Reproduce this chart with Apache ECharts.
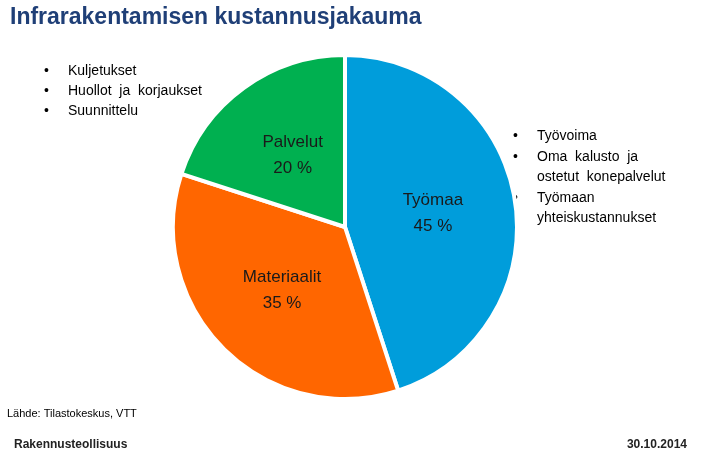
<!DOCTYPE html><html><head><meta charset="utf-8">
<script src="https://cdn.jsdelivr.net/npm/echarts@6/dist/echarts.min.js"></script>
<style>html,body{margin:0;padding:0;background:#fff}#c{width:701px;height:466px}</style></head><body><div id="c"></div>
<script>
const categories=['Työmaa','Materiaalit','Palvelut'];
const values=[45,35,20];
const colors=['#009DDB','#FF6600','#00B050'];
const leftBullets=['Kuljetukset','Huollot  ja  korjaukset','Suunnittelu'];
const rightBullets=[['•','Työvoima'],['•','Oma  kalusto  ja'],['','ostetut  konepalvelut'],['•','Työmaan'],['','yhteiskustannukset']];
const chart=echarts.init(document.getElementById('c'));
const font='Arial, "Liberation Sans", sans-serif';
const g=[];
g.push({type:'text',left:10,top:6,style:{text:'Infrarakentamisen kustannusjakauma',font:'bold 23px '+font,fill:'#1F3F77'}});
leftBullets.forEach((t,i)=>{g.push({type:'text',left:44,top:64+i*20,style:{text:'•',font:'14px '+font,fill:'#000'}});g.push({type:'text',left:68,top:64+i*20,style:{text:t,font:'14px '+font,fill:'#000'}});});
const ry=[129,150,170,191,211];
rightBullets.forEach((r,i)=>{if(r[0])g.push({type:'text',left:513,top:ry[i],style:{text:r[0],font:'14px '+font,fill:'#000'}});g.push({type:'text',left:537,top:ry[i],style:{text:r[1],font:'14px '+font,fill:'#000'}});});
g.push({type:'text',left:7,top:408,style:{text:'Lähde: Tilastokeskus, VTT',font:'11px '+font,fill:'#000'}});
g.push({type:'text',left:14,top:439,style:{text:'Rakennusteollisuus',font:'bold 12px '+font,fill:'#222'}});
g.push({type:'text',right:14,top:439,style:{text:'30.10.2014',font:'bold 12px '+font,fill:'#222'}});
chart.setOption({animation:false,graphic:g,
series:[{type:'pie',center:[345,227],radius:[0,172],startAngle:90,clockwise:true,
itemStyle:{borderColor:'#fff',borderWidth:4},
label:{show:true,position:'inside',formatter:p=>p.name+'\n'+p.value+' %',fontFamily:font,fontSize:17,lineHeight:26,color:'#1a1a1a'},
data:categories.map((c,i)=>({name:c,value:values[i],itemStyle:{color:colors[i]}}))}]});
</script></body></html>
